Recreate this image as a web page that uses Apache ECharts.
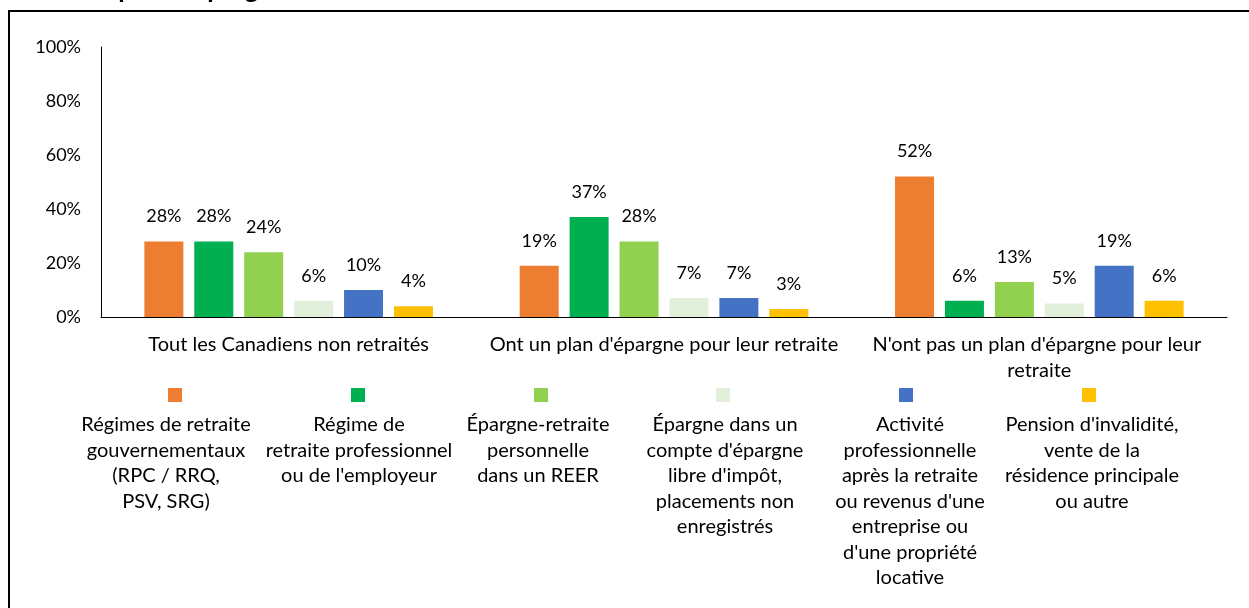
<!DOCTYPE html>
<html>
<head>
<meta charset="utf-8">
<script src="https://cdn.jsdelivr.net/npm/echarts@6/dist/echarts.min.js"></script>
<style>
  html, body { margin: 0; padding: 0; background: #fff; }
  #chart { width: 1249px; height: 608px; }
</style>
</head>
<body>
<div id="chart"></div>
<script>
// ---- Data ----
const categories = [
  "Tout les Canadiens non retraités",
  "Ont un plan d'épargne pour leur retraite",
  "N'ont pas un plan d'épargne pour leur retraite"
];
const seriesNames = [
  "Régimes de retraite gouvernementaux (RPC / RRQ, PSV, SRG)",
  "Régime de retraite professionnel ou de l'employeur",
  "Épargne-retraite personnelle dans un REER",
  "Épargne dans un compte d'épargne libre d'impôt, placements non enregistrés",
  "Activité professionnelle après la retraite ou revenus d'une entreprise ou d'une propriété locative",
  "Pension d'invalidité, vente de la résidence principale ou autre"
];
const legendLines = [
  ["Régimes de retraite", "gouvernementaux", "(RPC / RRQ,", "PSV, SRG)"],
  ["Régime de", "retraite professionnel", "ou de l'employeur"],
  ["Épargne-retraite", "personnelle", "dans un REER"],
  ["Épargne dans un", "compte d'épargne", "libre d'impôt,", "placements non", "enregistrés"],
  ["Activité", "professionnelle", "après la retraite", "ou revenus d'une", "entreprise ou", "d'une propriété", "locative"],
  ["Pension d'invalidité,", "vente de la", "résidence principale", "ou autre"]
];
const valuesGouvernementaux = [28, 19, 52];
const valuesEmployeur = [28, 37, 6];
const valuesREER = [24, 28, 13];
const valuesCELI = [6, 7, 5];
const valuesActivite = [10, 7, 19];
const valuesAutre = [4, 3, 6];
const yTicks = [0, 20, 40, 60, 80, 100];
const titleText = "aucun plan d'épargne";

// ---- Styles ----
const colors = ['#ED7D31', '#00B050', '#92D050', '#E2EFDA', '#4472C4', '#FFC000'];
const allValues = [valuesGouvernementaux, valuesEmployeur, valuesREER, valuesCELI, valuesActivite, valuesAutre];
const FONT = 'Lato';
const textCenters = [166, 359, 538, 725, 910, 1092];
const markerCenters = [175, 358, 541, 723, 906, 1089];
const LEG_W = 210;

const rich = {
  t: { fontFamily: FONT, fontSize: 20, color: '#000', lineHeight: 25.5, width: LEG_W, align: 'center' }
};
colors.forEach((c, i) => {
  rich['m' + i] = { width: 14, height: 14, lineHeight: 34, backgroundColor: c, align: 'center' };
  const off = markerCenters[i] - textCenters[i];
  rich['s' + i] = { width: Math.max(0.01, Math.abs(off) * 2), height: 14, lineHeight: 34, align: 'center' };
});

function markerLine(i) {
  const off = markerCenters[i] - textCenters[i];
  return off >= 0 ? '{s' + i + '|}{m' + i + '|}' : '{m' + i + '|}{s' + i + '|}';
}

const legends = seriesNames.map((name, i) => ({
  data: [name],
  left: textCenters[i] - LEG_W / 2 - 5,
  top: 385,
  padding: 0,
  icon: 'none',
  itemWidth: 0,
  itemHeight: 0,
  selectedMode: false,
  formatter: () => markerLine(i) + '\n' + legendLines[i].map(l => '{t|' + l + '}').join('\n'),
  textStyle: { fontFamily: FONT, fontSize: 20, color: '#000', rich: rich }
}));

const series = seriesNames.map((name, i) => ({
  name: name,
  type: 'bar',
  data: allValues[i],
  barWidth: 39,
  barGap: '28%',
  itemStyle: { color: colors[i] },
  label: {
    show: true,
    position: 'top',
    distance: 14,
    formatter: '{c}%',
    fontFamily: FONT,
    fontSize: 18,
    lineHeight: 22,
    color: '#000'
  },
  emphasis: { disabled: true }
}));

const chart = echarts.init(document.getElementById('chart'), null, { renderer: 'canvas' });
chart.setOption({
  animation: false,
  backgroundColor: '#fff',
  textStyle: { fontFamily: FONT },
  grid: { left: 101, right: 22, top: 47, bottom: 291, containLabel: false },
  legend: legends,
  xAxis: {
    type: 'category',
    data: categories,
    axisLine: { show: true, lineStyle: { color: '#000', width: 1 } },
    axisTick: { show: false },
    axisLabel: {
      interval: 0,
      margin: 15,
      fontFamily: FONT,
      fontSize: 20,
      lineHeight: 25.5,
      color: '#000',
      width: 372,
      overflow: 'break'
    }
  },
  yAxis: {
    type: 'value',
    min: yTicks[0],
    max: yTicks[yTicks.length - 1],
    interval: yTicks[1] - yTicks[0],
    axisLine: { show: true, lineStyle: { color: '#000', width: 1 } },
    axisTick: { show: false },
    splitLine: { show: false },
    axisLabel: {
      margin: 20,
      fontFamily: FONT,
      fontSize: 18,
      color: '#000',
      formatter: '{value}%'
    }
  },
  graphic: [
    {
      type: 'polyline',
      silent: true,
      shape: { points: [[9, 608], [9, 11], [1249, 11]] },
      style: { stroke: '#000', lineWidth: 2, fill: null }
    },
    {
      type: 'text',
      silent: true,
      x: 287,
      y: -10,
      style: {
        text: titleText,
        fontFamily: FONT,
        fontWeight: 'bold',
        fontSize: 26,
        fill: '#000',
        align: 'right',
        verticalAlign: 'middle'
      }
    }
  ],
  series: series
});
</script>
</body>
</html>
